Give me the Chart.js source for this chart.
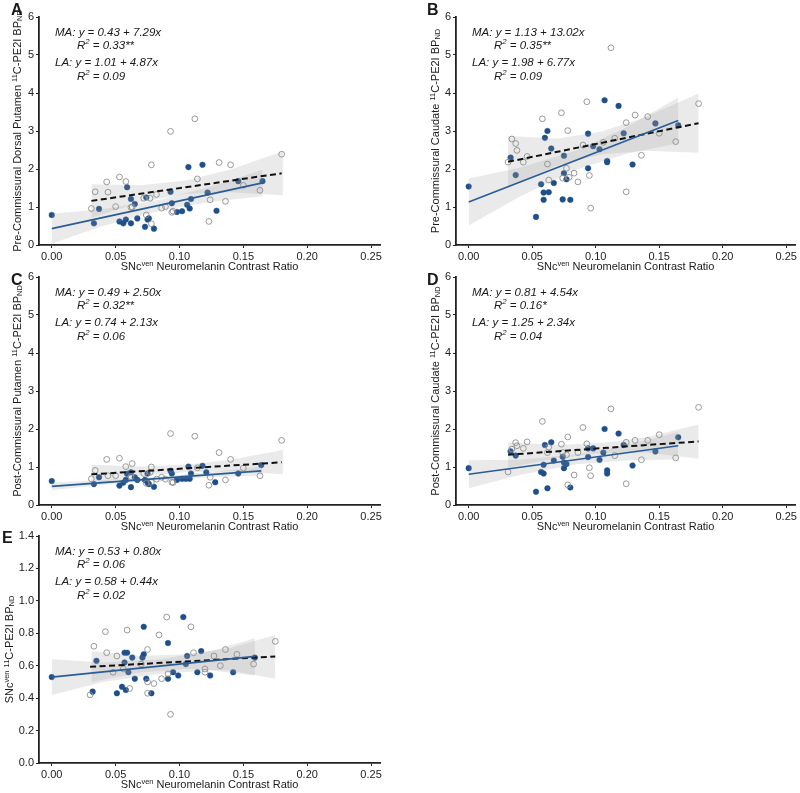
<!DOCTYPE html>
<html>
<head>
<meta charset="utf-8">
<script src="https://cdn.jsdelivr.net/npm/chart.js@4.4.1/dist/chart.umd.min.js"></script>
<style>
  body { margin: 0; background: #fff; }
  #wrap { position: relative; width: 800px; height: 793px; overflow: hidden; }
  canvas { position: absolute; }
</style>
</head>
<body>
<div id="wrap">
  <canvas id="pA" width="400" height="275" style="left:0;top:0"></canvas>
  <canvas id="pB" width="400" height="275" style="left:400px;top:0"></canvas>
  <canvas id="pC" width="400" height="275" style="left:0;top:260px"></canvas>
  <canvas id="pD" width="400" height="275" style="left:400px;top:260px"></canvas>
  <canvas id="pE" width="400" height="273" style="left:0;top:520px"></canvas>
</div>
<script>
// ---- data: [SNc ven NM contrast ratio, BPnd] ----
// MA = filled blue, LA = open grey
const maA = [[0,0.79],[0.033,0.57],[0.037,0.95],[0.053,0.62],[0.056,0.57],[0.058,0.67],[0.059,1.52],[0.062,1.21],[0.062,0.57],[0.065,1.08],[0.067,0.70],[0.073,0.48],[0.074,1.25],[0.075,0.67],[0.076,0.70],[0.080,0.43],[0.093,1.40],[0.094,1.10],[0.098,0.87],[0.102,0.89],[0.106,1.06],[0.107,2.05],[0.108,0.96],[0.109,1.21],[0.118,2.11],[0.122,1.38],[0.129,0.90],[0.146,1.68],[0.165,1.68]];
const laA = [[0.031,0.96],[0.034,1.40],[0.043,1.66],[0.044,1.39],[0.050,1.01],[0.053,1.79],[0.058,1.67],[0.062,0.99],[0.063,1.00],[0.072,1.23],[0.074,0.79],[0.077,1.23],[0.078,2.11],[0.078,0.56],[0.082,1.33],[0.086,0.97],[0.089,1.01],[0.093,2.99],[0.094,0.86],[0.095,0.89],[0.112,3.32],[0.114,1.74],[0.123,0.62],[0.124,1.19],[0.131,2.17],[0.136,1.15],[0.140,2.11],[0.150,1.57],[0.163,1.44],[0.180,2.39]];

const maB = [[0,1.54],[0.033,2.30],[0.037,1.84],[0.053,0.74],[0.057,1.60],[0.059,1.38],[0.059,1.19],[0.060,2.82],[0.062,3.00],[0.063,1.39],[0.065,2.54],[0.067,1.63],[0.074,1.20],[0.075,1.89],[0.075,2.35],[0.077,1.73],[0.080,1.19],[0.094,2.93],[0.094,2.02],[0.098,2.60],[0.103,2.52],[0.107,3.81],[0.109,2.21],[0.109,2.18],[0.118,3.66],[0.122,2.94],[0.129,2.12],[0.147,3.20],[0.165,3.15]];
const laB = [[0.031,2.18],[0.034,2.79],[0.037,2.67],[0.038,2.49],[0.043,2.18],[0.046,2.33],[0.058,3.32],[0.062,2.13],[0.063,1.71],[0.073,3.48],[0.074,1.76],[0.077,2.02],[0.078,3.01],[0.079,1.78],[0.083,1.89],[0.086,1.66],[0.090,2.63],[0.093,3.77],[0.095,1.83],[0.096,0.97],[0.106,2.70],[0.112,5.19],[0.115,2.81],[0.124,1.40],[0.124,3.22],[0.131,3.42],[0.136,2.36],[0.141,3.38],[0.150,2.94],[0.163,2.72],[0.181,3.72]];

const maC = [[0,0.63],[0.033,0.55],[0.037,0.73],[0.053,0.51],[0.056,0.59],[0.058,0.66],[0.059,0.82],[0.062,0.86],[0.062,0.47],[0.065,0.73],[0.067,0.66],[0.073,0.66],[0.075,0.83],[0.075,0.59],[0.076,0.55],[0.080,0.48],[0.093,0.90],[0.094,0.83],[0.098,0.66],[0.102,0.69],[0.105,0.69],[0.107,1.01],[0.108,0.69],[0.109,0.83],[0.118,1.03],[0.121,0.86],[0.128,0.60],[0.146,0.83],[0.164,1.05]];
const laC = [[0.031,0.69],[0.034,0.91],[0.043,1.20],[0.044,0.77],[0.050,0.77],[0.053,1.23],[0.058,1.01],[0.062,0.75],[0.063,1.09],[0.072,0.83],[0.074,0.57],[0.077,0.86],[0.078,1.00],[0.078,0.60],[0.082,0.68],[0.086,0.73],[0.089,0.68],[0.093,1.88],[0.094,0.60],[0.095,0.59],[0.112,1.81],[0.114,0.98],[0.123,0.52],[0.124,0.73],[0.131,1.38],[0.136,0.66],[0.140,1.20],[0.150,0.97],[0.163,0.77],[0.180,1.70]];

const maD = [[0,0.97],[0.033,1.41],[0.037,1.30],[0.053,0.35],[0.057,0.87],[0.059,0.83],[0.059,1.06],[0.060,1.58],[0.062,0.44],[0.065,1.65],[0.067,1.17],[0.074,1.27],[0.075,0.97],[0.075,1.12],[0.077,1.08],[0.080,0.46],[0.094,1.49],[0.094,1.26],[0.098,1.49],[0.103,1.19],[0.106,1.38],[0.107,2.00],[0.109,0.91],[0.109,0.83],[0.118,1.88],[0.122,1.58],[0.129,1.04],[0.147,1.41],[0.165,1.78]];
const laD = [[0.031,0.87],[0.034,1.47],[0.037,1.64],[0.038,1.56],[0.043,1.49],[0.046,1.66],[0.058,2.20],[0.062,1.38],[0.063,1.52],[0.073,1.60],[0.074,1.38],[0.077,1.32],[0.078,1.79],[0.078,0.53],[0.083,0.79],[0.086,1.38],[0.090,2.04],[0.093,1.61],[0.095,0.98],[0.096,0.77],[0.112,2.53],[0.115,1.30],[0.124,0.56],[0.124,1.65],[0.131,1.70],[0.136,1.19],[0.141,1.70],[0.150,1.85],[0.163,1.24],[0.181,2.57]];

const maE = [[0,0.53],[0.032,0.44],[0.035,0.63],[0.051,0.43],[0.055,0.47],[0.057,0.68],[0.057,0.62],[0.058,0.45],[0.059,0.68],[0.060,0.56],[0.063,0.65],[0.065,0.52],[0.071,0.65],[0.072,0.84],[0.072,0.67],[0.074,0.52],[0.078,0.43],[0.091,0.52],[0.091,0.74],[0.095,0.56],[0.099,0.54],[0.103,0.90],[0.105,0.61],[0.106,0.66],[0.114,0.56],[0.117,0.69],[0.124,0.54],[0.142,0.56],[0.159,0.65]];
const laE = [[0.030,0.42],[0.033,0.72],[0.042,0.81],[0.043,0.68],[0.048,0.56],[0.051,0.66],[0.056,0.58],[0.059,0.82],[0.061,0.46],[0.070,0.61],[0.075,0.70],[0.075,0.50],[0.075,0.43],[0.080,0.49],[0.084,0.79],[0.086,0.52],[0.090,0.90],[0.091,0.55],[0.093,0.30],[0.109,0.84],[0.111,0.68],[0.120,0.58],[0.120,0.56],[0.127,0.66],[0.132,0.60],[0.136,0.70],[0.145,0.67],[0.158,0.61],[0.175,0.75]];

// regression fits [intercept, slope] and R² labels (from the figure text)
const maFit = { A: [0.43, 7.29], B: [1.13, 13.02], C: [0.49, 2.50], D: [0.81, 4.54], E: [0.53, 0.80] };
const laFit = { A: [1.01, 4.87], B: [1.98, 6.77], C: [0.74, 2.13], D: [1.25, 2.34], E: [0.58, 0.44] };
const maR2 = { A: '0.33**', B: '0.35**', C: '0.32**', D: '0.16*', E: '0.06' };
const laR2 = { A: '0.09', B: '0.09', C: '0.06', D: '0.04', E: '0.02' };

// confidence bands read at a few x positions
const maBandX = [0, 0.04, 0.085, 0.125, 0.165];
const maBandXE = [0, 0.04, 0.085, 0.125, 0.159];
const laBandX = [0.031, 0.07, 0.105, 0.14, 0.181];
const laBandXE = [0.031, 0.07, 0.105, 0.14, 0.175];
const maLo = { A: [0.04,0.50,0.91,1.14,1.28], B: [0.51,1.27,1.99,2.41,2.68], C: [0.39,0.53,0.65,0.73,0.78], D: [0.44,0.79,1.07,1.18,1.20], E: [0.42,0.50,0.55,0.57,0.54] };
const maHi = { A: [0.82,0.94,1.19,1.54,1.98], B: [1.75,2.03,2.49,3.11,3.88], C: [0.59,0.65,0.75,0.87,1.02], D: [1.18,1.19,1.33,1.58,1.92], E: [0.64,0.62,0.64,0.69,0.77] };
const laLo = { A: [0.72,1.13,1.34,1.39,1.31], B: [1.51,2.10,2.39,2.48,2.43], C: [0.56,0.77,0.86,0.89,0.81], D: [0.99,1.24,1.37,1.38,1.22], E: [0.50,0.56,0.58,0.57,0.52] };
const laHi = { A: [1.60,1.57,1.70,1.99,2.47], B: [2.87,2.80,2.99,3.38,3.99], C: [1.06,1.01,1.06,1.19,1.45], D: [1.65,1.58,1.63,1.78,2.12], E: [0.69,0.66,0.67,0.71,0.79] };

const xTicks = [0, 0.05, 0.10, 0.15, 0.20, 0.25];

const FONT = '"Liberation Sans", Arial, sans-serif';
const BLUE = '#1c4f8c';
const BAND = 'rgba(150,150,150,0.2)';

const xTitle = [{ t: 'SNc' }, { t: 'ven', s: 'sup' }, { t: ' Neuromelanin Contrast Ratio' }];
const bp = [{ t: '11', s: 'sup' }, { t: 'C-PE2I BP' }, { t: 'ND', s: 'sub' }];

const panels = [
  { key: 'A', id: 'pA', ma: maA, la: laA, axisW: 39, padR: 20, padT: 17, yMax: 6, yStep: 1, yDec: 0,
    letter: [11, 15], yTitleX: 17, yTitle: [{ t: 'Pre-Commissural Dorsal Putamen ' }, ...bp] },
  { key: 'B', id: 'pB', ma: maB, la: laB, axisW: 56, padR: 3, padT: 17, yMax: 6, yStep: 1, yDec: 0,
    letter: [27, 15], yTitleX: 35, yTitle: [{ t: 'Pre-Commissural Caudate ' }, ...bp] },
  { key: 'C', id: 'pC', ma: maC, la: laC, axisW: 39, padR: 20, padT: 17, yMax: 6, yStep: 1, yDec: 0,
    letter: [11, 25], yTitleX: 17, yTitle: [{ t: 'Post-Commissural Putamen ' }, ...bp] },
  { key: 'D', id: 'pD', ma: maD, la: laD, axisW: 56, padR: 3, padT: 17, yMax: 6, yStep: 1, yDec: 0,
    letter: [27, 25], yTitleX: 35, yTitle: [{ t: 'Post-Commissural Caudate ' }, ...bp] },
  { key: 'E', id: 'pE', ma: maE, la: laE, axisW: 39, padR: 20, padT: 16, yMax: 1.4, yStep: 0.2, yDec: 1,
    letter: [2, 23], yTitleX: 9, yTitle: [{ t: 'SNc' }, { t: 'ven', s: 'sup' }, { t: ' ' }, ...bp] }
];

function runFont(r, size, style) {
  const sz = r.s ? size * 0.68 : size;
  return (style ? style + ' ' : '') + sz + 'px ' + FONT;
}
function runsWidth(ctx, runs, size, style) {
  let w = 0;
  runs.forEach(r => { ctx.font = runFont(r, size, style); w += ctx.measureText(r.t).width; });
  return w;
}
function drawRuns(ctx, runs, x, y, size, style) {
  runs.forEach(r => {
    ctx.font = runFont(r, size, style);
    let dy = 0;
    if (r.s === 'sup') dy = -size * 0.4;
    if (r.s === 'sub') dy = size * 0.12;
    ctx.fillText(r.t, x, y + dy);
    x += ctx.measureText(r.t).width;
  });
}

const decor = {
  id: 'decor',
  afterDraw(chart, args, opts) {
    const p = opts.p;
    const ctx = chart.ctx;
    const a = chart.chartArea;
    ctx.save();
    ctx.fillStyle = '#1a1a1a';
    ctx.textBaseline = 'alphabetic';
    ctx.textAlign = 'left';
    // panel letter
    ctx.font = 'bold 16px ' + FONT;
    ctx.fillText(p.key, p.letter[0], p.letter[1]);
    // x title
    const xs = 11;
    const xw = runsWidth(ctx, xTitle, xs, '');
    drawRuns(ctx, xTitle, (a.left + a.right) / 2 - xw / 2, a.bottom + 25, xs, '');
    // y title
    const yw = runsWidth(ctx, p.yTitle, xs, '');
    ctx.save();
    ctx.translate(p.yTitleX, (a.top + a.bottom) / 2);
    ctx.rotate(-Math.PI / 2);
    drawRuns(ctx, p.yTitle, -yw / 2, xs * 0.36, xs, '');
    ctx.restore();
    // equations
    const fs = 11.5;
    const m = maFit[p.key], l = laFit[p.key];
    const lines = [
      [[{ t: 'MA: y = ' + m[0].toFixed(2) + ' + ' + m[1].toFixed(2) + 'x' }], 0, 19],
      [[{ t: 'R' }, { t: '2', s: 'sup' }, { t: ' = ' + maR2[p.key] }], 22, 32],
      [[{ t: 'LA: y = ' + l[0].toFixed(2) + ' + ' + l[1].toFixed(2) + 'x' }], 0, 49],
      [[{ t: 'R' }, { t: '2', s: 'sup' }, { t: ' = ' + laR2[p.key] }], 22, 63]
    ];
    lines.forEach(([runs, dx, dy]) => drawRuns(ctx, runs, a.left + 16 + dx, a.top + dy, fs, 'italic'));
    ctx.restore();
  }
};

function pts(arr) { return arr.map(d => ({ x: d[0], y: d[1] })); }
function fitLine(fit, arr) {
  const xs = arr.map(d => d[0]);
  const x0 = Math.min(...xs), x1 = Math.max(...xs);
  return [{ x: x0, y: fit[0] + fit[1] * x0 }, { x: x1, y: fit[0] + fit[1] * x1 }];
}
function band(xs, ys) { return xs.map((x, i) => ({ x: x, y: ys[i] })); }

panels.forEach(p => {
  const k = p.key;
  const mbx = k === 'E' ? maBandXE : maBandX;
  const lbx = k === 'E' ? laBandXE : laBandX;
  const lineDs = (data, color, dash, w) => ({
    data, showLine: true, borderColor: color, borderWidth: w, borderDash: dash,
    pointRadius: 0, fill: false, order: 0
  });
  const datasets = [
    lineDs(fitLine(maFit[k], p.ma), '#2a5d97', [], 1.7),
    lineDs(fitLine(laFit[k], p.la), '#111', [6, 3.5], 2),
    { data: band(mbx, maHi[k]), showLine: true, borderWidth: 0, pointRadius: 0, fill: '+1', backgroundColor: BAND, order: 1 },
    { data: band(mbx, maLo[k]), showLine: true, borderWidth: 0, pointRadius: 0, fill: false, order: 1 },
    { data: band(lbx, laHi[k]), showLine: true, borderWidth: 0, pointRadius: 0, fill: '+1', backgroundColor: BAND, order: 1 },
    { data: band(lbx, laLo[k]), showLine: true, borderWidth: 0, pointRadius: 0, fill: false, order: 1 },
    { data: pts(p.la), pointRadius: 2.9, pointBackgroundColor: 'rgba(255,255,255,0)', pointBorderColor: '#8d8d8d', pointBorderWidth: 0.9, order: 2 },
    { data: pts(p.ma), pointRadius: 2.8, pointBackgroundColor: BLUE, pointBorderColor: BLUE, pointBorderWidth: 0.5, order: 2 }
  ];
  new Chart(document.getElementById(p.id), {
    type: 'scatter',
    data: { datasets },
    options: {
      responsive: false,
      animation: false,
      layout: { padding: { left: 0, right: p.padR, top: p.padT, bottom: 0 } },
      plugins: { legend: { display: false }, tooltip: { enabled: false }, decor: { p } },
      scales: {
        x: {
          type: 'linear', min: -0.01, max: 0.257,
          afterFit: s => { s.height = 30; },
          afterBuildTicks: s => { s.ticks = xTicks.map(v => ({ value: v })); },
          grid: { display: true, drawOnChartArea: false, drawTicks: true, tickLength: 3, color: '#222' },
          border: { display: true, color: '#222', width: 1.8 },
          ticks: { padding: 2, color: '#222', font: { family: FONT, size: 11 }, maxRotation: 0,
            callback: v => v.toFixed(2) }
        },
        y: {
          type: 'linear', min: 0, max: p.yMax,
          afterFit: s => { s.width = p.axisW; },
          grid: { display: true, drawOnChartArea: false, drawTicks: true, tickLength: 3, color: '#222' },
          border: { display: true, color: '#222', width: 1.8 },
          ticks: { stepSize: p.yStep, padding: 2, color: '#222', font: { family: FONT, size: 11 },
            callback: v => v.toFixed(p.yDec) }
        }
      }
    },
    plugins: [decor]
  });
});
</script>
</body>
</html>
